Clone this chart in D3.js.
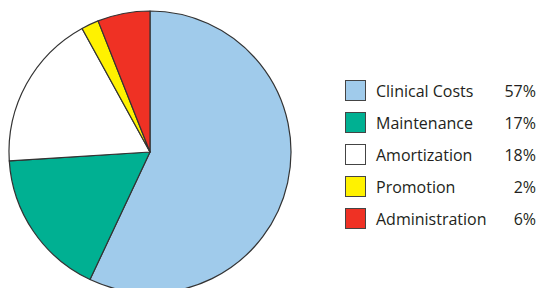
<!DOCTYPE html>
<html>
<head>
<meta charset="utf-8">
<script src="https://cdn.jsdelivr.net/npm/d3@7"></script>
<style>
  body { margin: 0; background: #fff; }
  text { font-family: "Open Sans", sans-serif; fill: #231f20; }
</style>
</head>
<body>
<div id="chart"></div>
<script>
// categories + values (percent), clockwise from 12 o'clock
const categories = ["Clinical Costs", "Maintenance", "Amortization", "Promotion", "Administration"];
const values = [57, 17, 18, 2, 6];
const colors = ["#a0cbeb", "#00b092", "#ffffff", "#fff200", "#ef3124"];

const width = 540, height = 288;

const svg = d3.select("#chart").append("svg")
    .attr("width", width)
    .attr("height", height);

const data = categories.map((c, i) => ({name: c, value: values[i], color: colors[i]}));

const pie = d3.pie().sort(null).value(d => d.value);
const arc = d3.arc().innerRadius(0).outerRadius(141);

const g = svg.append("g")
    .attr("transform", "translate(150,152)");

g.selectAll("path")
    .data(pie(data))
    .enter().append("path")
    .attr("d", arc)
    .attr("fill", d => d.data.color)
    .attr("stroke", "#333")
    .attr("stroke-width", 1.2)
    .attr("stroke-linejoin", "round");

// legend
const legend = svg.append("g").attr("transform", "translate(345,80)");
const y = d3.scaleBand().domain(categories).range([0, 160]).padding(0);

const rows = legend.selectAll("g")
    .data(data)
    .enter().append("g")
    .attr("transform", d => `translate(0,${y(d.name)})`);

rows.append("rect")
    .attr("x", 0.5).attr("y", 0.5)
    .attr("width", 20).attr("height", 20)
    .attr("fill", d => d.color)
    .attr("stroke", "#444")
    .attr("stroke-width", 1);

rows.append("text")
    .attr("x", 31)
    .attr("y", 11)
    .attr("dy", "0.35em")
    .style("font-size", "16px")
    .text(d => d.name);

rows.append("text")
    .attr("x", 191)
    .attr("y", 11)
    .attr("dy", "0.35em")
    .attr("text-anchor", "end")
    .style("font-size", "16px")
    .text(d => d.value + "%");
</script>
</body>
</html>
